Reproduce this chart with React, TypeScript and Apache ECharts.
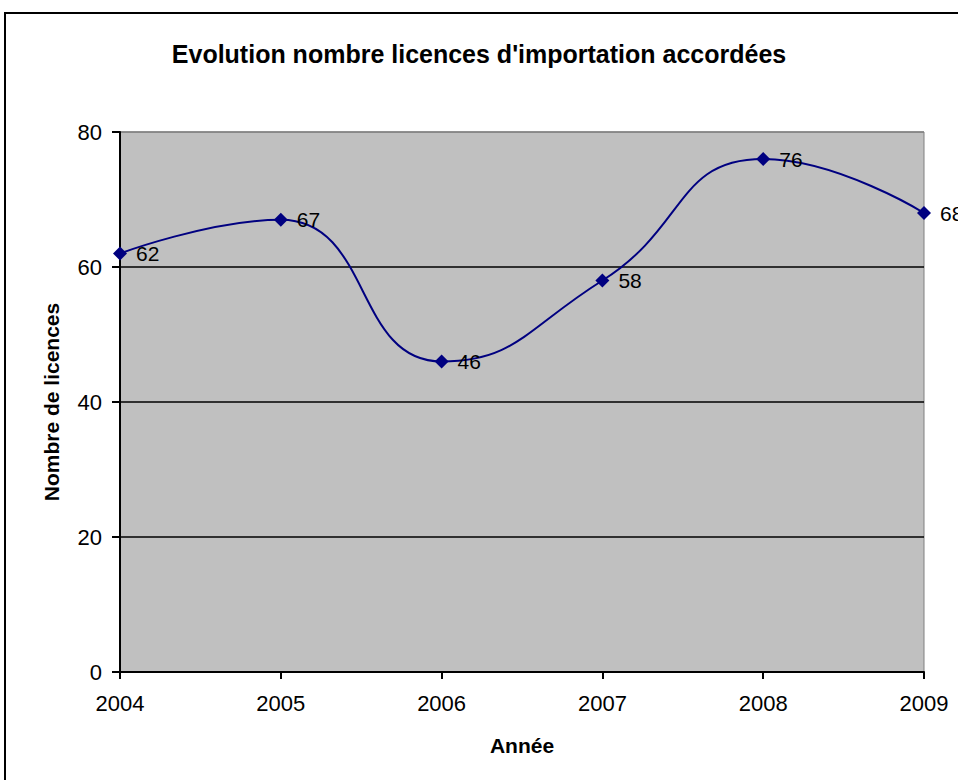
import React, { useEffect, useRef } from "react";
import * as echarts from "echarts";

const titleText = "Evolution nombre licences d'importation accordées";
const years = ["2004", "2005", "2006", "2007", "2008", "2009"];
const licences = [62, 67, 46, 58, 76, 68];
const yAxisName = "Nombre de licences";
const xAxisName = "Année";

const FONT = "'Liberation Sans', Arial, sans-serif";

export default function App() {
  const ref = useRef<HTMLDivElement>(null);
  useEffect(() => {
    document.body.style.margin = "0";
    const chart = echarts.init(ref.current!, null, { renderer: "svg" });
    chart.setOption({
      animation: false,
      backgroundColor: "#ffffff",
      textStyle: { fontFamily: FONT },
      title: {
        text: titleText,
        left: "center",
        top: 36,
        textStyle: { fontFamily: FONT, fontSize: 25, fontWeight: "bold", color: "#000" },
      },
      graphic: [
        {
          type: "rect",
          shape: { x: 5, y: 13, width: 1000, height: 1000 },
          style: { fill: "none", stroke: "#000", lineWidth: 2 },
          z: 100,
        },
      ],
      grid: {
        left: 120,
        top: 132,
        width: 804,
        height: 540,
        show: true,
        backgroundColor: "#C0C0C0",
        borderColor: "#808080",
        borderWidth: 1,
      },
      xAxis: {
        type: "category",
        data: years,
        boundaryGap: false,
        name: xAxisName,
        nameLocation: "middle",
        nameGap: 63,
        nameTextStyle: { fontFamily: FONT, fontSize: 21, fontWeight: "bold", color: "#000" },
        axisLine: { show: true, lineStyle: { color: "#000", width: 2 } },
        axisTick: { show: true, alignWithLabel: true, inside: false, length: 7, lineStyle: { color: "#000", width: 2 } },
        axisLabel: { fontFamily: FONT, fontSize: 22, color: "#000", margin: 20 },
        splitLine: { show: false },
      },
      yAxis: {
        type: "value",
        min: 0,
        max: 80,
        interval: 20,
        name: yAxisName,
        nameLocation: "middle",
        nameGap: 58,
        nameTextStyle: { fontFamily: FONT, fontSize: 21, fontWeight: "bold", color: "#000" },
        axisLine: { show: true, lineStyle: { color: "#000", width: 2 } },
        axisTick: { show: true, length: 8, lineStyle: { color: "#000", width: 2 } },
        axisLabel: { fontFamily: FONT, fontSize: 22, color: "#000", margin: 18 },
        splitLine: {
          show: true,
          lineStyle: { color: ["#000", "#000", "#000", "#000", "#808080"], width: 1.5 },
        },
      },
      series: [
        {
          type: "line",
          data: licences,
          smooth: 0.5,
          symbol: "diamond",
          symbolSize: 14,
          itemStyle: { color: "#000080" },
          lineStyle: { color: "#000080", width: 2 },
          label: {
            show: true,
            position: "right",
            distance: 9,
            fontFamily: FONT,
            fontSize: 21,
            color: "#000",
          },
          clip: false,
        },
      ],
    });
    return () => chart.dispose();
  }, []);
  return <div ref={ref} style={{ width: 958, height: 780 }} />;
}
